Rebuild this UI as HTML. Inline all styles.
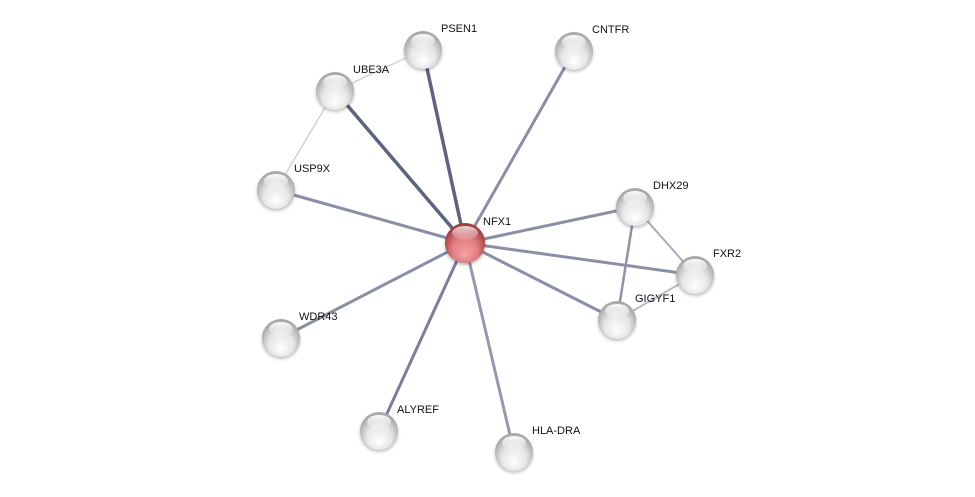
<!DOCTYPE html>
<html><head><style>
html,body{margin:0;padding:0;background:#fff;}
svg{display:block;}
text{font-family:"Liberation Sans",Arial,sans-serif;font-size:11px;fill:#111;}
</style></head><body>
<svg width="975" height="497" viewBox="0 0 975 497" xmlns="http://www.w3.org/2000/svg">
<defs>
<radialGradient id="g" cx="50%" cy="60%" r="55%" fx="50%" fy="80%">
<stop offset="0" stop-color="#ffffff"/><stop offset="0.6" stop-color="#e6e6e6"/><stop offset="1" stop-color="#a8a8a8"/>
</radialGradient>
<radialGradient id="r" cx="50%" cy="60%" r="55%" fx="50%" fy="80%">
<stop offset="0" stop-color="#f5a3a6"/><stop offset="0.6" stop-color="#e07c80"/><stop offset="1" stop-color="#a33c40"/>
</radialGradient>
<linearGradient id="h" x1="0" y1="0" x2="0" y2="1">
<stop offset="0" stop-color="#fff" stop-opacity="0.95"/><stop offset="1" stop-color="#fff" stop-opacity="0.1"/>
</linearGradient>
<filter id="s" x="-30%" y="-30%" width="160%" height="160%"><feGaussianBlur stdDeviation="1.5"/></filter>
</defs>
<g stroke-linecap="round">
<line x1="335" y1="91" x2="423" y2="50" stroke="#d2d2d2" stroke-width="1.5"/>
<line x1="335" y1="91" x2="276" y2="190" stroke="#d2d2d2" stroke-width="1.5"/>
<line x1="635" y1="207" x2="695" y2="275" stroke="#a8abbb" stroke-width="2"/>
<line x1="635" y1="207" x2="617" y2="320" stroke="#8e93aa" stroke-width="2.5"/>
<line x1="695" y1="275" x2="617" y2="320" stroke="#b8bbc8" stroke-width="2"/>
<line x1="465" y1="243" x2="423" y2="50" stroke="#5d6380" stroke-width="3.5"/>
<line x1="465" y1="243" x2="335" y2="91" stroke="#5d6380" stroke-width="3.5"/>
<line x1="465" y1="243" x2="574" y2="51" stroke="#8a8fa6" stroke-width="3"/>
<line x1="465" y1="243" x2="276" y2="190" stroke="#8a8fa6" stroke-width="3"/>
<line x1="465" y1="243" x2="635" y2="207" stroke="#8a8fa6" stroke-width="3"/>
<line x1="465" y1="243" x2="695" y2="275" stroke="#8a8fa6" stroke-width="3"/>
<line x1="465" y1="243" x2="617" y2="320" stroke="#8a8fa6" stroke-width="3"/>
<line x1="465" y1="243" x2="281" y2="338" stroke="#8a8fa6" stroke-width="3"/>
<line x1="465" y1="243" x2="379" y2="431" stroke="#7a809a" stroke-width="3"/>
<line x1="465" y1="243" x2="514" y2="452" stroke="#9599ae" stroke-width="3"/>
</g>
<g id="nodes">
<g transform="translate(423,50)"><circle r="19" cy="2" fill="#000" opacity="0.25" filter="url(#s)"/><circle r="19" fill="url(#g)"/><ellipse cy="-9" rx="12" ry="7" fill="url(#h)"/></g>
<g transform="translate(574,51)"><circle r="19" cy="2" fill="#000" opacity="0.25" filter="url(#s)"/><circle r="19" fill="url(#g)"/><ellipse cy="-9" rx="12" ry="7" fill="url(#h)"/></g>
<g transform="translate(335,91)"><circle r="19" cy="2" fill="#000" opacity="0.25" filter="url(#s)"/><circle r="19" fill="url(#g)"/><ellipse cy="-9" rx="12" ry="7" fill="url(#h)"/></g>
<g transform="translate(276,190)"><circle r="19" cy="2" fill="#000" opacity="0.25" filter="url(#s)"/><circle r="19" fill="url(#g)"/><ellipse cy="-9" rx="12" ry="7" fill="url(#h)"/></g>
<g transform="translate(635,207)"><circle r="19" cy="2" fill="#000" opacity="0.25" filter="url(#s)"/><circle r="19" fill="url(#g)"/><ellipse cy="-9" rx="12" ry="7" fill="url(#h)"/></g>
<g transform="translate(695,275)"><circle r="19" cy="2" fill="#000" opacity="0.25" filter="url(#s)"/><circle r="19" fill="url(#g)"/><ellipse cy="-9" rx="12" ry="7" fill="url(#h)"/></g>
<g transform="translate(617,320)"><circle r="19" cy="2" fill="#000" opacity="0.25" filter="url(#s)"/><circle r="19" fill="url(#g)"/><ellipse cy="-9" rx="12" ry="7" fill="url(#h)"/></g>
<g transform="translate(281,338)"><circle r="19" cy="2" fill="#000" opacity="0.25" filter="url(#s)"/><circle r="19" fill="url(#g)"/><ellipse cy="-9" rx="12" ry="7" fill="url(#h)"/></g>
<g transform="translate(379,431)"><circle r="19" cy="2" fill="#000" opacity="0.25" filter="url(#s)"/><circle r="19" fill="url(#g)"/><ellipse cy="-9" rx="12" ry="7" fill="url(#h)"/></g>
<g transform="translate(514,452)"><circle r="19" cy="2" fill="#000" opacity="0.25" filter="url(#s)"/><circle r="19" fill="url(#g)"/><ellipse cy="-9" rx="12" ry="7" fill="url(#h)"/></g>
<g transform="translate(465,243)"><circle r="20" cy="2" fill="#000" opacity="0.3" filter="url(#s)"/><circle r="20" fill="url(#r)"/><ellipse cy="-10" rx="13" ry="7" fill="url(#h)" opacity="0.8"/></g>
</g>
<g>
<text x="441" y="32">PSEN1</text>
<text x="592" y="33">CNTFR</text>
<text x="353" y="73">UBE3A</text>
<text x="294" y="172">USP9X</text>
<text x="483" y="225">NFX1</text>
<text x="653" y="189">DHX29</text>
<text x="713" y="257">FXR2</text>
<text x="635" y="302">GIGYF1</text>
<text x="299" y="320">WDR43</text>
<text x="397" y="413">ALYREF</text>
<text x="532" y="434">HLA-DRA</text>
</g>
</svg>
</body></html>
